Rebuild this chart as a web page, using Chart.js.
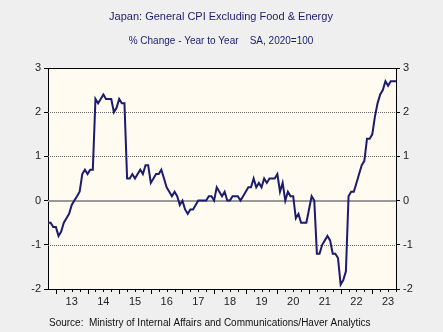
<!DOCTYPE html>
<html>
<head>
<meta charset="utf-8">
<script src="https://cdn.jsdelivr.net/npm/chart.js@4/dist/chart.umd.min.js"></script>
<style>
  html, body { margin: 0; padding: 0; background: #efefef; }
  canvas { display: block; }
</style>
</head>
<body>
<canvas id="cpiChart" width="443" height="332"></canvas>
<script>
// Japan: general CPI excl. food & energy, % y/y, monthly from Oct 2012
// x values are months counted from Jan 2013 (Oct 2012 = -3)
const firstMonth = -3;
const cpi2012 = [-0.5, -0.5, -0.6];
const cpi2013 = [-0.6, -0.8, -0.7, -0.5, -0.4, -0.3, -0.1, 0.0, 0.1, 0.2, 0.6, 0.7];
const cpi2014 = [0.6, 0.7, 0.7, 2.3, 2.2, 2.3, 2.4, 2.3, 2.3, 2.3, 2.0, 2.1];
const cpi2015 = [2.3, 2.2, 2.2, 0.5, 0.5, 0.6, 0.5, 0.6, 0.7, 0.6, 0.8, 0.8];
const cpi2016 = [0.4, 0.5, 0.6, 0.6, 0.7, 0.5, 0.3, 0.2, 0.1, 0.2, 0.1, -0.1];
const cpi2017 = [0.0, -0.2, -0.3, -0.2, -0.2, -0.1, 0.0, 0.0, 0.0, 0.0, 0.1, 0.1];
const cpi2018 = [0.0, 0.3, 0.2, 0.1, 0.2, 0.0, 0.0, 0.1, 0.1, 0.1, 0.0, 0.1];
const cpi2019 = [0.2, 0.3, 0.3, 0.5, 0.3, 0.4, 0.3, 0.5, 0.4, 0.5, 0.5, 0.5];
const cpi2020 = [0.6, 0.2, 0.4, 0.0, 0.2, 0.1, 0.1, -0.4, -0.3, -0.5, -0.5, -0.5];
const cpi2021 = [-0.2, 0.1, 0.0, -1.2, -1.2, -1.0, -0.9, -0.8, -0.9, -1.2, -1.2, -1.3];
const cpi2022 = [-1.9, -1.8, -1.6, 0.1, 0.2, 0.2, 0.4, 0.6, 0.8, 0.9, 1.4, 1.4];
const cpi2023 = [1.5, 1.9, 2.2, 2.4, 2.5, 2.7, 2.6, 2.7, 2.7, 2.7];

const yearLabels = ['13', '14', '15', '16', '17', '18', '19', '20', '21', '22', '23'];
const yTicks = [-2, -1, 0, 1, 2, 3];
const dottedLevels = [-1, 1, 2];

const titleText = 'Japan: General CPI Excluding Food & Energy';
const subtitleText = '% Change - Year to Year    SA, 2020=100';
const sourceText = 'Source:  Ministry of Internal Affairs and Communications/Haver Analytics';

const allValues = [].concat(cpi2012, cpi2013, cpi2014, cpi2015, cpi2016, cpi2017,
    cpi2018, cpi2019, cpi2020, cpi2021, cpi2022, cpi2023);
const points = allValues.map((v, i) => ({ x: firstMonth + i, y: v }));
const lastMonth = firstMonth + allValues.length - 1;

const FONT = '"Liberation Sans", Arial, sans-serif';
const NAVY = '#1b1b6f';

const framePlugin = {
    id: 'frame',
    beforeDraw(chart) {
        const { ctx, chartArea: a } = chart;
        ctx.save();
        ctx.fillStyle = '#efefef';
        ctx.fillRect(0, 0, chart.width, chart.height);
        ctx.fillStyle = '#fffbf0';
        ctx.fillRect(a.left, a.top, a.right - a.left, a.bottom - a.top);
        ctx.restore();
    },
    beforeDatasetsDraw(chart) {
        const { ctx, chartArea: a, scales } = chart;
        const y = scales.y;
        ctx.save();
        ctx.lineWidth = 1;
        ctx.strokeStyle = '#666';
        ctx.setLineDash([1, 1]);
        dottedLevels.forEach(v => {
            const py = Math.round(y.getPixelForValue(v)) + 0.5;
            ctx.beginPath();
            ctx.moveTo(a.left, py);
            ctx.lineTo(a.right, py);
            ctx.stroke();
        });
        ctx.setLineDash([]);
        ctx.strokeStyle = '#999';
        ctx.lineWidth = 2;
        const zy = Math.round(y.getPixelForValue(0));
        ctx.beginPath();
        ctx.moveTo(a.left, zy);
        ctx.lineTo(a.right, zy);
        ctx.stroke();
        ctx.restore();
    },
    afterDraw(chart) {
        const { ctx, chartArea: a, scales } = chart;
        const x = scales.x;
        ctx.save();
        // frame top and bottom
        ctx.strokeStyle = '#000';
        ctx.lineWidth = 1;
        ctx.beginPath();
        ctx.moveTo(a.left, a.top + 0.5);
        ctx.lineTo(a.right, a.top + 0.5);
        ctx.moveTo(a.left, a.bottom + 0.5);
        ctx.lineTo(a.right, a.bottom + 0.5);
        ctx.stroke();
        // quarterly ticks on the time axis, longer at year starts
        ctx.beginPath();
        for (let m = 0; m <= lastMonth; m += 3) {
            const px = Math.round(x.getPixelForValue(m)) + 0.5;
            const len = m % 12 === 0 ? 5 : 3;
            ctx.moveTo(px, a.bottom);
            ctx.lineTo(px, a.bottom + len);
        }
        ctx.stroke();
        // titles and source
        ctx.fillStyle = NAVY;
        ctx.textAlign = 'center';
        ctx.textBaseline = 'middle';
        ctx.font = '11px ' + FONT;
        ctx.fillText(titleText, 221, 17);
        ctx.font = '10px ' + FONT;
        ctx.fillText(subtitleText, 221, 41);
        ctx.fillStyle = '#111';
        ctx.textAlign = 'left';
        ctx.fillText(sourceText, 49, 323);
        ctx.restore();
    }
};

const yAxis = (position, width) => ({
    type: 'linear',
    position: position,
    min: -2,
    max: 3,
    afterBuildTicks: scale => { scale.ticks = yTicks.map(v => ({ value: v })); },
    afterFit: scale => { scale.width = width; },
    ticks: { color: '#222', font: { family: FONT, size: 11 }, padding: 3 },
    grid: { drawOnChartArea: false, drawTicks: true, tickLength: 4, tickColor: '#000', color: '#000' },
    border: { display: true, color: '#000', width: 1 }
});

new Chart(document.getElementById('cpiChart'), {
    type: 'line',
    data: {
        datasets: [{
            data: points,
            borderColor: NAVY,
            borderWidth: 2,
            pointRadius: 0,
            tension: 0,
            fill: false
        }]
    },
    options: {
        responsive: false,
        animation: false,
        devicePixelRatio: 1,
        layout: { padding: { top: 68, left: 0, right: 0, bottom: 0 } },
        plugins: { legend: { display: false }, tooltip: { enabled: false } },
        scales: {
            x: {
                type: 'linear',
                min: firstMonth,
                max: lastMonth,
                afterBuildTicks: scale => {
                    scale.ticks = yearLabels.map((_, i) => ({ value: 6 + 12 * i }));
                },
                afterFit: scale => { scale.height = 43; },
                ticks: {
                    autoSkip: false,
                    maxRotation: 0,
                    padding: 6,
                    color: '#222',
                    font: { family: FONT, size: 11 },
                    callback: v => yearLabels[Math.round((v - 6) / 12)]
                },
                grid: { display: false, drawTicks: false },
                border: { display: false }
            },
            y: yAxis('left', 48),
            y2: yAxis('right', 47)
        }
    },
    plugins: [framePlugin]
});
</script>
</body>
</html>
